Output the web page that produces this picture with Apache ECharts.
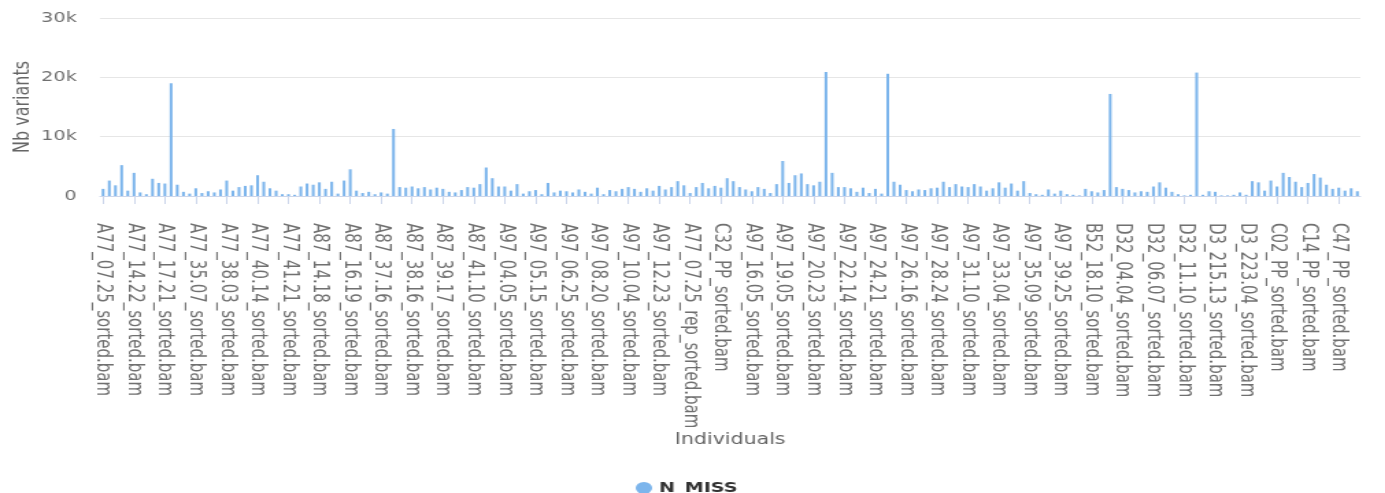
<!DOCTYPE html>
<html>
<head>
<meta charset="utf-8">
<script src="https://cdn.jsdelivr.net/npm/echarts@6/dist/echarts.min.js"></script>
<style>
  html, body { margin: 0; padding: 0; background: #fff; overflow: hidden; }
  /* the chart is laid out narrow and widened horizontally to fill the page */
  #chart { width: 1011px; height: 493px; transform: scaleX(1.37); transform-origin: 0 0; }
</style>
</head>
<body>
<div id="chart"></div>
<script>
// Every fifth individual is labelled on the axis
const tickLabels = [
  'A77_07.25_sorted.bam', 'A77_14.22_sorted.bam', 'A77_17.21_sorted.bam', 'A77_35.07_sorted.bam',
  'A77_38.03_sorted.bam', 'A77_40.14_sorted.bam', 'A77_41.21_sorted.bam', 'A87_14.18_sorted.bam',
  'A87_16.19_sorted.bam', 'A87_37.16_sorted.bam', 'A87_38.16_sorted.bam', 'A87_39.17_sorted.bam',
  'A87_41.10_sorted.bam', 'A97_04.05_sorted.bam', 'A97_05.15_sorted.bam', 'A97_06.25_sorted.bam',
  'A97_08.20_sorted.bam', 'A97_10.04_sorted.bam', 'A97_12.23_sorted.bam', 'A77_07.25_rep_sorted.bam',
  'C32_PP_sorted.bam', 'A97_16.05_sorted.bam', 'A97_19.05_sorted.bam', 'A97_20.23_sorted.bam',
  'A97_22.14_sorted.bam', 'A97_24.21_sorted.bam', 'A97_26.16_sorted.bam', 'A97_28.24_sorted.bam',
  'A97_31.10_sorted.bam', 'A97_33.04_sorted.bam', 'A97_35.09_sorted.bam', 'A97_39.25_sorted.bam',
  'B52_18.10_sorted.bam', 'D32_04.04_sorted.bam', 'D32_06.07_sorted.bam', 'D32_11.10_sorted.bam',
  'D3_215.13_sorted.bam', 'D3_223.04_sorted.bam', 'C02_PP_sorted.bam', 'C14_PP_sorted.bam',
  'C47_PP_sorted.bam'
];

// Missing genotype counts per individual (one row per labelled group)
const nMiss = [
  1200, 2600, 1800, 5200, 900,
  3900, 600, 300, 2900, 2200,
  2100, 19000, 1900, 700, 400,
  1300, 500, 800, 600, 1100,
  2600, 900, 1500, 1700, 1800,
  3500, 2400, 1300, 900, 300,
  300, 200, 1600, 2100, 1900,
  2300, 1200, 2400, 400, 2600,
  4500, 900, 500, 700, 300,
  600, 400, 11300, 1500, 1400,
  1600, 1300, 1500, 1100, 1400,
  1200, 700, 600, 1000, 1500,
  1400, 2000, 4800, 3000, 1600,
  1600, 900, 2000, 400, 800,
  1000, 300, 2200, 600, 900,
  800, 600, 1100, 700, 400,
  1400, 300, 1000, 800, 1200,
  1500, 1200, 700, 1300, 900,
  1700, 1100, 1500, 2500, 1800,
  500, 1500, 2200, 1300, 1700,
  1400, 3000, 2500, 1500, 1100,
  800, 1500, 1200, 500, 2000,
  5900, 2200, 3500, 3800, 2000,
  1800, 2400, 20900, 3900, 1500,
  1500, 1300, 700, 1400, 500,
  1200, 400, 20600, 2400, 1900,
  1000, 800, 1100, 1000, 1300,
  1400, 2400, 1500, 2000, 1600,
  1500, 2000, 1600, 900, 1300,
  2300, 1400, 2100, 900, 2500,
  500, 300, 200, 1100, 400,
  900, 300, 200, 100, 1200,
  800, 600, 1000, 17200, 1500,
  1200, 1000, 600, 800, 700,
  1600, 2300, 1400, 700, 300,
  100, 200, 20800, 200, 800,
  700, 100, 100, 200, 600,
  200, 2500, 2300, 900, 2600,
  1600, 3900, 3200, 2400, 1500,
  2200, 3700, 3100, 1900, 1200,
  1400, 900, 1300, 800
];

const yTicks = [0, 10000, 20000, 30000];
const seriesName = 'N_MISS';

// Category list: the labelled individual of each group followed by its unlabelled members
const individuals = nMiss.map((_, i) => {
  const g = Math.floor(i / 5), k = i % 5;
  return k === 0 ? tickLabels[g] : tickLabels[g].replace('_sorted.bam', '') + '#' + (k + 1);
});

const FONT = 'DejaVu Sans';
const chart = echarts.init(document.getElementById('chart'), null, { renderer: 'canvas' });

chart.setOption({
  animation: false,
  backgroundColor: '#ffffff',
  textStyle: { fontFamily: FONT },
  grid: { left: 73, right: 18, top: 18, bottom: 297, containLabel: false, outerBoundsMode: 'none' },
  legend: {
    data: [seriesName],
    left: 459,
    top: 476,
    icon: 'circle',
    itemWidth: 12,
    itemHeight: 12,
    itemGap: 10,
    textStyle: { fontFamily: FONT, fontSize: 14, fontWeight: 'bold', color: '#333333' }
  },
  xAxis: {
    type: 'category',
    data: individuals,
    name: 'Individuals',
    nameLocation: 'middle',
    nameGap: 237,
    nameMoveOverlap: false,
    nameTextStyle: { fontFamily: FONT, fontSize: 15, color: '#666666' },
    axisLine: { show: true, lineStyle: { color: '#ccd6eb', width: 1 } },
    axisTick: { show: true, interval: 4, alignWithLabel: true, length: 8, lineStyle: { color: '#ccd6eb' } },
    axisLabel: {
      interval: 4,
      rotate: -90,
      margin: 27,
      fontFamily: FONT,
      fontSize: 15,
      color: '#707070'
    }
  },
  yAxis: {
    type: 'value',
    min: yTicks[0],
    max: yTicks[yTicks.length - 1],
    interval: yTicks[1] - yTicks[0],
    name: 'Nb variants',
    nameLocation: 'middle',
    nameGap: 48,
    nameMoveOverlap: false,
    nameTextStyle: { fontFamily: FONT, fontSize: 16, color: '#666666' },
    axisLine: { show: false },
    axisTick: { show: false },
    splitLine: { lineStyle: { color: '#e6e6e6', width: 1 } },
    axisLabel: {
      margin: 17,
      fontFamily: FONT,
      fontSize: 14,
      color: '#707070',
      formatter: v => (v === 0 ? '0' : v / 1000 + 'k')
    }
  },
  series: [{
    name: seriesName,
    type: 'bar',
    data: nMiss,
    barWidth: '45%',
    itemStyle: { color: '#7cb5ec' }
  }]
});
</script>
</body>
</html>
